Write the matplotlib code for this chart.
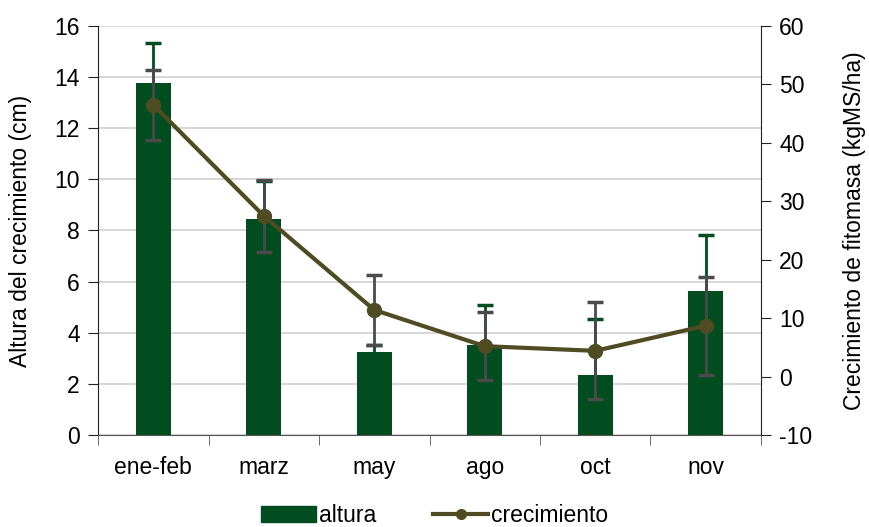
import numpy as np
import matplotlib
matplotlib.use("Agg")
import matplotlib.pyplot as plt
from matplotlib.lines import Line2D
from matplotlib.patches import Patch

plt.rcParams['font.family'] = ['Liberation Sans', 'DejaVu Sans']
plt.rcParams['axes.unicode_minus'] = False

meses = ["ene-feb", "marz", "may", "ago", "oct", "nov"]
altura = [13.75, 8.45, 3.25, 3.52, 2.35, 5.63]
altura_err = [1.57, 1.5, 0.27, 1.57, 2.2, 2.2]
crecimiento = [46.5, 27.5, 11.4, 5.2, 4.4, 8.7]
crec_err = [6.0, 6.1, 6.0, 5.8, 8.3, 8.4]

verde = "#014d1f"
oliva = "#4f4b22"
gris = "#4a4a4a"
fs = 16.5

fig = plt.figure(figsize=(8.69, 5.27), dpi=100)
ax = fig.add_axes([0.1128, 0.1746, 0.7629, 0.7761])
x = np.arange(len(meses))

ax.bar(x, altura, width=0.32, color=verde, zorder=2)
ax.errorbar(x, altura, yerr=altura_err, fmt="none", ecolor=verde,
            elinewidth=2, capsize=6, capthick=2.5, zorder=3)
ax.set_ylim(0, 16)
ax.set_yticks(range(0, 17, 2))
ax.set_xlim(-0.5, len(meses) - 0.5)
ax.set_xticks(x)
ax.set_xticklabels(meses)
ax.set_xticks(np.arange(-0.5, len(meses), 1), minor=True)
ax.tick_params(axis="x", which="major", length=0, pad=15, labelsize=fs)
ax.tick_params(axis="x", which="minor", length=7, color="#555555")
ax.tick_params(axis="y", length=7, labelsize=fs, color="#222222", pad=6)
ax.set_ylabel("Altura del crecimiento (cm)", fontsize=fs, labelpad=16)
ax.yaxis.grid(True, color="#d0d0d0", linewidth=1.2, zorder=0)
ax.set_axisbelow(True)
for s in ["top", "right"]:
    ax.spines[s].set_visible(False)
ax.spines["left"].set_color("#222222")
ax.spines["bottom"].set_color("#555555")

ax2 = ax.twinx()
ax2.errorbar(x, crecimiento, yerr=crec_err, fmt="none", ecolor=gris,
             elinewidth=2, capsize=6, capthick=2.5, zorder=3)
ax2.plot(x, crecimiento, color=oliva, linewidth=3, marker="o",
         markersize=10, zorder=4)
ax2.set_ylim(-10, 60)
ax2.set_yticks(range(-10, 61, 10))
ax2.tick_params(axis="y", length=7, labelsize=fs, color="#222222", pad=6)
ax2.set_ylabel("Crecimiento de fitomasa (kgMS/ha)", fontsize=fs, labelpad=22)
for s in ["top", "left", "bottom"]:
    ax2.spines[s].set_visible(False)
ax2.spines["right"].set_color("#222222")

handles = [Patch(color=verde),
           Line2D([0], [0], color=oliva, linewidth=3, marker="o", markersize=7)]
fig.legend(handles, ["altura", "crecimiento"], loc="lower center",
           bbox_to_anchor=(0.5, -0.04), ncol=2, frameon=False, fontsize=fs,
           handlelength=2.4, handletextpad=0.1, columnspacing=2.5)

fig.savefig("out.png", dpi=100)
